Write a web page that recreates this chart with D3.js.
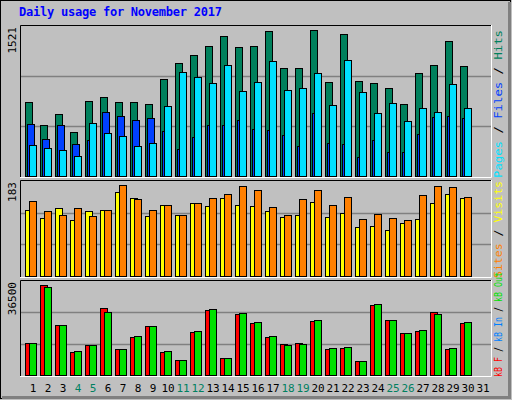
<!DOCTYPE html>
<html><head><meta charset="utf-8">
<script src="https://cdn.jsdelivr.net/npm/d3@7"></script>
<style>body{margin:0;background:#fff}</style></head>
<body><svg id="c" width="512" height="400"></svg>
<script>
const days = d3.range(1,32);
const weekend = [4,5,11,12,18,19,25,26];
const hits  = [755,521,631,450,762,803,755,755,732,984,1145,1226,1316,1417,1306,1316,1468,1095,1095,1478,954,1437,964,944,893,732,1044,1125,1367,1115];
const files = [531,380,521,329,360,652,611,571,591,460,269,400,521,521,571,480,470,420,309,641,339,329,188,360,239,239,430,601,611,591];
const pages = [319,279,259,198,541,440,410,309,339,712,1054,1004,944,1125,863,954,1165,873,893,1044,722,1175,853,641,742,561,692,652,934,692];
const visits= [128,111,131,107,126,128,162,151,115,137,118,141,134,151,137,134,126,113,118,143,113,122,94,96,88,103,109,141,158,151];
const sites = [145,126,118,131,115,128,175,149,128,137,118,141,151,158,173,166,132,118,149,166,137,153,109,120,111,107,156,173,172,153];
const kbF   = [12295,35091,19595,8837,11526,26126,9989,14600,19210,8837,5763,16521,25358,6532,23821,20363,14600,11910,12295,21131,9989,10374,5379,27279,21516,16137,16905,24589,9989,20363];
const kbOut = [12295,34323,19595,9221,11526,24589,9989,14984,19210,9221,5763,16905,25742,6532,24205,20747,14984,11526,11910,21516,10374,10758,5379,27663,21516,16137,17289,23821,10374,20747];
const maxHits=1521, maxVisits=183, maxKB=36500;

const svg=d3.select('#c');
const mono="'DejaVu Sans Mono', monospace";
svg.append('rect').attr('width',512).attr('height',400).attr('fill','#c0c0c0');
svg.append('rect').attr('x',0.5).attr('y',0.5).attr('width',510).attr('height',398).attr('fill','none').attr('stroke','#000');
svg.append('path').attr('d','M509.5,2 V397.5 H2').attr('stroke','#808080').attr('stroke-width',3).attr('fill','none');
svg.append('text').attr('x',19).attr('y',16).attr('font-family',mono).attr('font-size',12).attr('font-weight','bold').attr('fill','#0000ff')
  .attr('textLength',203).text('Daily usage for November 2017');

const x=d3.scaleLinear().domain([1,31]).range([25,475]);
const L=20,R=491;
function panel(top,bot,max,label,series,rlabel,rlen){
  svg.append('rect').attr('x',L).attr('y',top).attr('width',R-L).attr('height',bot-top).attr('fill','#c0c0c0');
  const y=d3.scaleLinear().domain([0,max]).range([bot,top+1]);
  [max/3,2*max/3].forEach(v=>svg.append('line').attr('x1',L).attr('x2',R).attr('y1',Math.round(y(v))+.5).attr('y2',Math.round(y(v))+.5).attr('stroke','#808080').attr('stroke-width',1.5));
  series.forEach(s=>{
    svg.append('g').selectAll('rect').data(s.data).join('rect')
      .attr('x',(d,i)=>x(i+1)+s.off+.5).attr('width',s.w)
      .attr('y',d=>Math.round(y(d))+.5).attr('height',d=>bot-Math.round(y(d)))
      .attr('fill',s.color).attr('stroke','#000').attr('stroke-width',1);
  });
  svg.append('path').attr('d',`M${L+.5},${bot+1} V${top+.5} H${R}`).attr('stroke','#000').attr('fill','none');
  svg.append('path').attr('d',`M${L},${bot+1.5} H${R+.5} V${top}`).attr('stroke','#fff').attr('fill','none');
  svg.append('text').attr('transform',`translate(16,${top+2}) rotate(-90)`).attr('text-anchor','end')
    .attr('font-family',mono).attr('font-size',11).attr('fill','#000').text(label);
  const t=svg.append('text').attr('transform',`translate(502,${bot+2}) rotate(-90)`).attr('text-anchor','start')
    .attr('font-family',mono).attr('font-size',11).attr('textLength',rlen).attr('lengthAdjust','spacingAndGlyphs');
  rlabel.forEach(p=>t.append('tspan').attr('fill',p[1]).text(p[0]));
}
panel(25,176,maxHits,'1521',[
  {data:hits,off:0,w:7,color:'#00805c'},
  {data:files,off:2,w:7,color:'#0040ff'},
  {data:pages,off:4,w:7,color:'#00e0ff'}],
  [['Pages','#00e0ff'],[' / ','#000'],['Files','#0040ff'],[' / ','#000'],['Hits','#00805c']],148);
panel(180,276,maxVisits,'183',[
  {data:visits,off:0,w:7,color:'#ffff00'},
  {data:sites,off:4,w:7,color:'#ff8000'}],
  [['Sites','#ff8000'],[' / ','#000'],['Visits','#ffff00']],97);
panel(280,375,maxKB,'36500',[
  {data:kbF,off:0,w:7,color:'#ff0000'},
  {data:kbOut,off:4,w:7,color:'#00e000'}],
  [['kB F','#ff0000'],[' / ','#000'],['kB In','#0080ff'],[' / ','#000'],['kB Out','#00e000']],105);

svg.append('g').selectAll('text').data(days).join('text')
  .attr('x',d=>x(d)+8).attr('y',392).attr('text-anchor','middle')
  .attr('font-family',mono).attr('font-size',11)
  .attr('fill',d=>weekend.includes(d)?'#008060':'#000').text(d=>d);
</script></body></html>
